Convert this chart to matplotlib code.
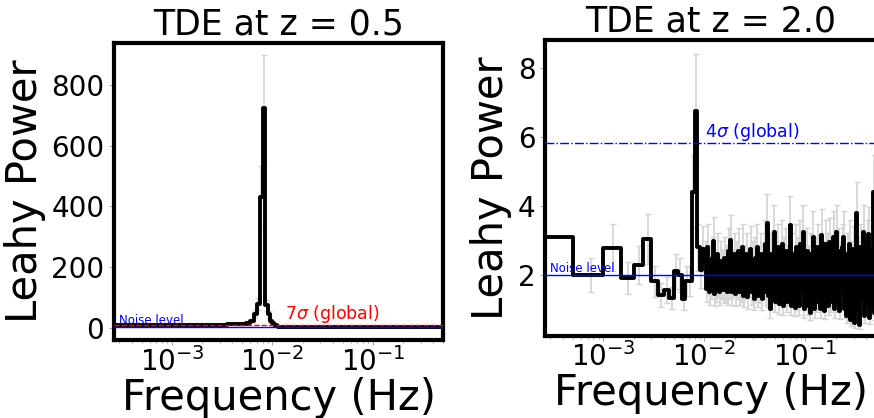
import numpy as np
import matplotlib
matplotlib.use('Agg')
import matplotlib.pyplot as plt

# frequency grid: 5e-4 Hz bins at low f, log-spaced bins at high f
df = 5e-4
freq_left = np.concatenate([df * (np.arange(24) + 0.5), np.geomspace(1.3e-2, 0.5, 30)])
freq_right = np.concatenate([df * (np.arange(20) + 0.5), np.geomspace(1.03e-2, 0.5, 170)])

# TDE at z = 0.5 (Leahy powers)
power_left = [10, 9, 10, 9, 10, 10, 11, 12, 12, 13, 13, 15, 23, 46, 78, 430, 724, 74, 44, 22, 15, 8, 5, 3,
              2.6, 2.2, 1.8, 2.4, 1.6, 2.1, 2.3, 1.7, 2.6, 1.9, 2.2, 1.5, 2.8, 1.8, 2.0, 2.5, 1.4, 2.3, 1.9, 2.7,
              1.6, 2.1, 2.4, 1.3, 2.6, 2.0, 1.7, 2.9, 1.8, 2.2]

# TDE at z = 2.0 (Leahy powers)
power_right = [3.09, 2.0, 2.79, 1.92, 2.29, 3.04, 1.81, 1.42, 1.55, 1.32,
               2.1, 2.0, 1.3, 1.82, 1.82, 4.42, 6.76, 2.8, 2.15, 2.75,
               2.4, 1.6, 2.8, 1.9, 1.5, 2.3, 1.7, 2.5, 2.97, 1.45,
               2.1, 1.6, 2.6, 1.8, 1.5, 2.4, 1.7, 2.2, 1.55, 2.5,
               1.6, 2.3, 1.5, 2.7, 1.7, 3.0, 1.5, 2.2, 1.8, 2.6,
               1.45, 2.4, 1.7, 2.7, 1.5, 2.1, 1.6, 2.8, 1.4, 2.3,
               1.7, 2.6, 1.35, 2.2, 1.8, 2.75, 1.5, 2.4, 1.3, 2.5,
               1.6, 2.8, 1.4, 2.1, 1.55, 2.6, 1.3, 2.35, 1.7, 2.9,
               1.5, 3.5, 1.4, 2.2, 1.0, 2.6, 1.3, 2.1, 3.25, 1.2,
               2.4, 1.5, 2.8, 1.15, 2.2, 1.6, 2.9, 1.1, 2.5, 1.4,
               2.7, 1.2, 2.3, 1.5, 3.45, 1.1, 2.6, 1.4, 2.2, 1.05,
               2.8, 1.3, 2.5, 1.1, 2.9, 1.5, 2.1, 3.25, 1.0, 2.4,
               1.3, 2.7, 1.1, 2.3, 0.9, 2.6, 1.4, 3.1, 1.0, 2.5,
               1.2, 2.8, 1.5, 2.2, 1.0, 3.15, 1.3, 2.4, 0.95, 2.9,
               1.4, 2.6, 1.1, 2.95, 1.2, 2.3, 1.6, 3.1, 1.0, 2.5,
               3.25, 1.2, 2.7, 0.95, 2.4, 1.5, 2.8, 3.1, 1.0, 2.2,
               0.8, 2.6, 1.3, 2.9, 0.7, 2.4, 1.1, 2.75, 0.6, 2.2,
               3.79, 1.0, 2.5, 0.55, 2.8, 1.3, 2.3, 3.25, 0.8, 2.6,
               1.2, 2.9, 3.2, 0.75, 2.4, 1.1, 2.7, 4.42, 0.9, 2.8]

n_seg = 17  # averaged segments -> error = P / sqrt(M)
noise_level = 2.0
sig7_left = 11.0
sig4_right = 5.82

titles = ['TDE at z = 0.5', 'TDE at z = 2.0']

fig = plt.figure(figsize=(8.74, 4.18), dpi=100)
ax1 = fig.add_axes([114 / 874, 1 - 340 / 418, 329 / 874, 297 / 418])
ax2 = fig.add_axes([545 / 874, 1 - 335.5 / 418, 331 / 874, 295.5 / 418])

for ax, f, p, title in [(ax1, freq_left, power_left, titles[0]),
                        (ax2, freq_right, power_right, titles[1])]:
    p = np.array(p)
    ax.errorbar(f, p, yerr=p / np.sqrt(n_seg), fmt='none', ecolor='lightgrey',
                elinewidth=1.2, capsize=2.5, capthick=1, zorder=1)
    ax.step(f, p, where='mid', color='k', lw=2.8, zorder=2)
    ax.axhline(noise_level, color='blue', lw=1, zorder=3)
    ax.text(3.0e-4, noise_level, 'Noise level', color='blue', fontsize=8.5, va='bottom')
    ax.set_xscale('log')
    ax.set_xlim(2.65e-4, 0.5)
    ax.set_title(title, fontsize=25)
    ax.set_xlabel('Frequency (Hz)', fontsize=30, labelpad=0)
    ax.set_ylabel('Leahy Power', fontsize=30)
    ax.tick_params(axis='both', which='major', labelsize=20, width=0.5, color='grey')
    ax.tick_params(axis='x', which='major', pad=1.5)
    ax.tick_params(axis='both', which='minor', width=0.5, color='grey')
    for s in ax.spines.values():
        s.set_linewidth(3)

ax1.axhline(sig7_left, color='red', ls='--', lw=1, zorder=3)
ax1.text(1.35e-2, sig7_left, r'7$\sigma$ (global)', color='red', fontsize=12.5, va='bottom')
ax1.set_ylim(-40, 938)
ax1.set_yticks([0, 200, 400, 600, 800])

ax2.axhline(sig4_right, color='blue', ls='-.', lw=1, zorder=3)
ax2.text(1.02e-2, sig4_right, r'4$\sigma$ (global)', color='blue', fontsize=12.5, va='bottom')
ax2.set_ylim(0.24, 8.82)
ax2.set_yticks([2, 4, 6, 8])

fig.savefig('out.png', dpi=100)
